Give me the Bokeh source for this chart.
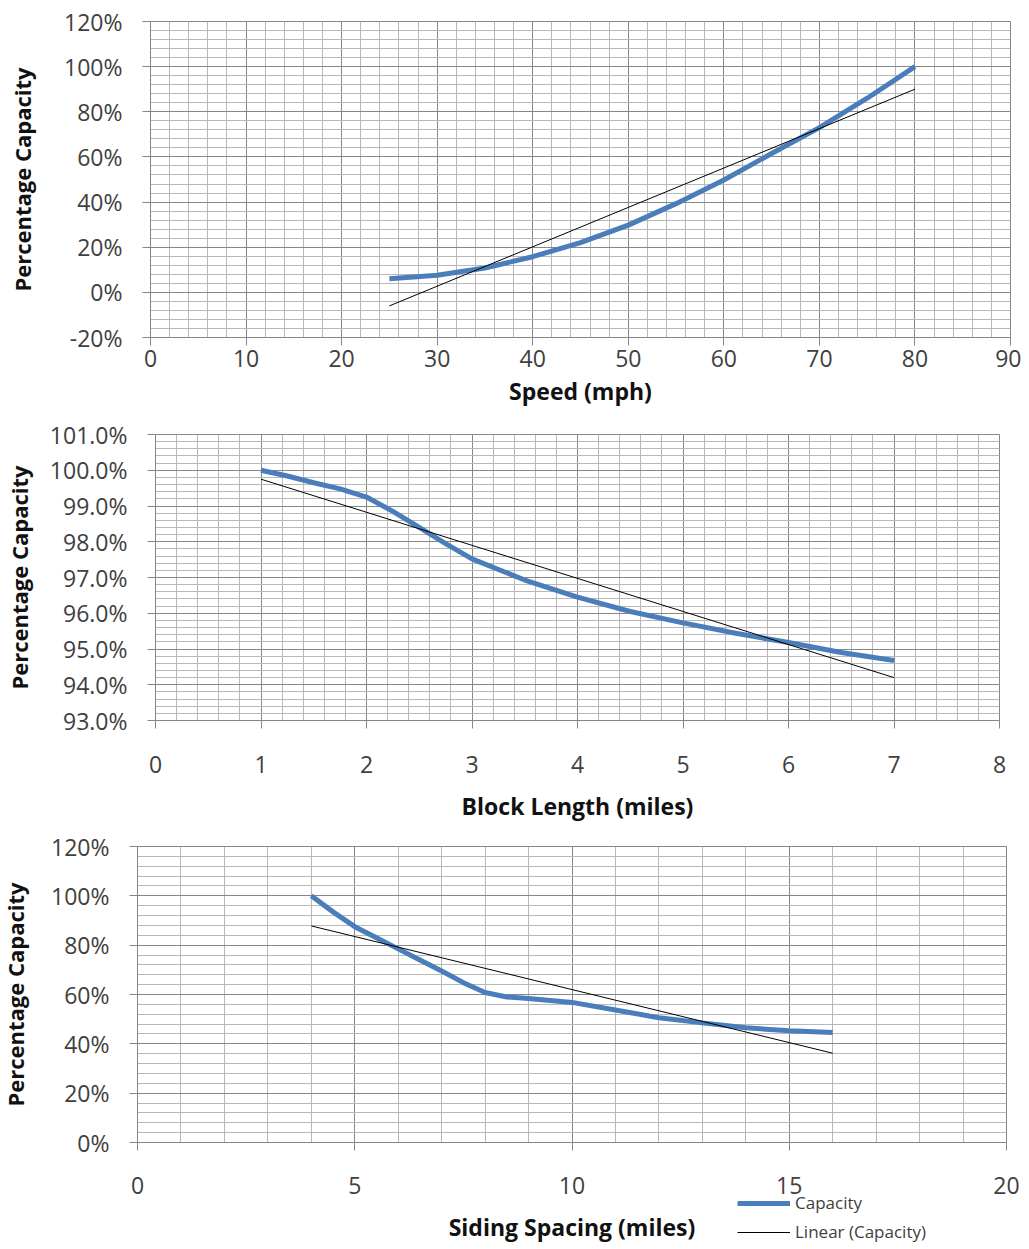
from bokeh.plotting import figure
from bokeh.models import (Range1d, SingleIntervalTicker, PrintfTickFormatter,
                          Legend, LegendItem)
from bokeh.embed import file_html
from bokeh.resources import INLINE

# ---------------- data ----------------
# Panel 1: Speed (mph) vs capacity (%)
speed_x = [25, 30, 35, 40, 45, 50, 55, 60, 65, 70, 75, 80]
speed_cap = [6, 7.6, 10.8, 15.8, 22, 29.8, 39.3, 49.8, 61.5, 73, 86, 100]
speed_trend_x = [25, 80]
speed_trend_y = [-6, 90]

# Panel 2: Block length (miles) vs capacity (%)
block_x = [1, 1.25, 1.5, 1.75, 2, 2.25, 2.5, 2.75, 3, 3.5, 4, 4.5, 5, 5.5,
           6, 6.5, 7]
block_cap = [100, 99.84, 99.65, 99.48, 99.25, 98.85, 98.4, 97.95, 97.52,
             96.93, 96.45, 96.05, 95.73, 95.44, 95.18, 94.9, 94.68]
block_trend_x = [1, 7]
block_trend_y = [99.75, 94.2]

# Panel 3: Siding spacing (miles) vs capacity (%)
siding_x = [4, 4.5, 5, 5.5, 6, 6.5, 7, 7.5, 8, 8.5, 9, 10, 11, 12, 13, 14,
            15, 16]
siding_cap = [100, 93.5, 87.5, 83, 78.5, 74, 69.5, 64.8, 60.8, 59.0, 58.4,
              56.8, 53.7, 50.6, 48.5, 46.5, 45.3, 44.6]
siding_trend_x = [4, 16]
siding_trend_y = [87.8, 36.2]

legend_labels = ["Capacity", "Linear (Capacity)"]
y_title = "Percentage Capacity"
x_titles = ["Speed (mph)", "Block Length (miles)", "Siding Spacing (miles)"]

BLUE = "#4a7ebb"
FONT = "Open Sans"
TICK_COLOR = "#404040"
FIG_W = 1021


def style_axes(p, x_title, xl_standoff, xt_standoff, yt_standoff):
    for ax in (p.xaxis[0], p.yaxis[0]):
        ax.axis_line_color = "#868686"
        ax.major_tick_line_color = "#868686"
        ax.major_tick_out = 8
        ax.major_tick_in = 0
        ax.minor_tick_out = 0
        ax.minor_tick_in = 0
        ax.major_label_text_font = FONT
        ax.major_label_text_font_size = "23px"
        ax.major_label_text_color = TICK_COLOR
        ax.axis_label_text_font = FONT
        ax.axis_label_text_font_style = "bold"
        ax.axis_label_text_color = "#111111"
    p.xaxis.axis_label = x_title
    p.xaxis.axis_label_text_font_size = "23px"
    p.xaxis.major_label_standoff = xl_standoff
    p.xaxis.axis_label_standoff = xt_standoff
    p.yaxis.axis_label = y_title
    p.yaxis.axis_label_text_font_size = "22px"
    p.yaxis.major_label_standoff = 20
    p.yaxis.axis_label_standoff = yt_standoff
    for g in (p.xgrid[0], p.ygrid[0]):
        g.grid_line_color = "#868686"
        g.grid_line_width = 1
        g.minor_grid_line_color = "#b8b8b8"
        g.minor_grid_line_width = 1


def make_panel(height, border, xr, yr, xint, yint, yfmt, x_title,
               xl_standoff, xt_standoff, yt_standoff):
    left, right, top, bottom = border
    p = figure(width=FIG_W, height=height, output_backend="svg",
               toolbar_location=None, x_range=Range1d(*xr),
               y_range=Range1d(*yr), min_border_left=left,
               min_border_right=right, min_border_top=top,
               min_border_bottom=bottom)
    p.background_fill_color = "white"
    p.border_fill_color = "white"
    p.outline_line_color = "#868686"
    p.xaxis.ticker = SingleIntervalTicker(interval=xint, num_minor_ticks=5)
    p.yaxis.ticker = SingleIntervalTicker(interval=yint, num_minor_ticks=5)
    p.yaxis.formatter = PrintfTickFormatter(format=yfmt)
    style_axes(p, x_title, xl_standoff, xt_standoff, yt_standoff)
    return p


# ---- panel 1 ----
p1 = make_panel(410, (150, 11, 21, 73), (0, 90), (-20, 120), 10, 20,
                "%d%%", x_titles[0], 4, 5, 24)
p1.line(speed_x, speed_cap, line_color=BLUE, line_width=5)
p1.line(speed_trend_x, speed_trend_y, line_color="black", line_width=1)

# ---- panel 2 ----
p2 = make_panel(415, (155, 22, 24, 105), (0, 8), (93, 101), 1, 1,
                "%.1f%%", x_titles[1], 27, 14, 13)
p2.line(block_x, block_cap, line_color=BLUE, line_width=5)
p2.line(block_trend_x, block_trend_y, line_color="black", line_width=1)

# ---- panel 3 ----
# Here the plot frame covers the whole figure, and both axes are pinned at
# 0 so that the legend beside the x-axis title can be drawn unclipped.
P3_H = 420
AREA_L, AREA_R, AREA_T, AREA_B = 137, 1006, 21, 317   # 0..20 x 0%..120%
X0, X1, Y0, Y1 = 0, 20, 0, 120
ppx = (AREA_R - AREA_L) / (X1 - X0)
ppy = (AREA_B - AREA_T) / (Y1 - Y0)
x_rng = (X0 - AREA_L / ppx, X1 + (FIG_W - AREA_R) / ppx)
y_rng = (Y0 - (P3_H - AREA_B) / ppy, Y1 + AREA_T / ppy)
p3 = figure(width=FIG_W, height=P3_H, output_backend="svg",
            toolbar_location=None, x_range=Range1d(*x_rng),
            y_range=Range1d(*y_rng), min_border_left=0, min_border_right=0,
            min_border_top=0, min_border_bottom=0)
p3.background_fill_color = "white"
p3.border_fill_color = "white"
p3.outline_line_color = None
p3.xaxis.ticker = SingleIntervalTicker(interval=5, num_minor_ticks=5)
p3.yaxis.ticker = SingleIntervalTicker(interval=20, num_minor_ticks=5)
p3.yaxis.formatter = PrintfTickFormatter(format="%d%%")
style_axes(p3, x_titles[2], 26, 14, 18)
p3.xaxis.fixed_location = Y0
p3.yaxis.fixed_location = X0
p3.xaxis.bounds = (X0, X1)
p3.yaxis.bounds = (Y0, Y1)
p3.xgrid.bounds = (X0, X1)
p3.ygrid.bounds = (Y0, Y1)
p3.xgrid.cross_bounds = (Y0, Y1)
p3.ygrid.cross_bounds = (X0, X1)

r_cap = p3.line(siding_x, siding_cap, line_color=BLUE, line_width=5)
r_trend = p3.line(siding_trend_x, siding_trend_y, line_color="black",
                  line_width=1)

legend = Legend(items=[LegendItem(label=legend_labels[0], renderers=[r_cap]),
                       LegendItem(label=legend_labels[1], renderers=[r_trend])],
                location=(737, 2), padding=0, margin=0, spacing=6,
                glyph_width=53, glyph_height=20, label_height=20,
                label_standoff=5, label_text_font=FONT,
                label_text_font_size="17px", label_text_color=TICK_COLOR,
                border_line_color=None, background_fill_alpha=0)
p3.add_layout(legend, "center")

open("out.html", "w").write(file_html([p1, p2, p3], INLINE))
